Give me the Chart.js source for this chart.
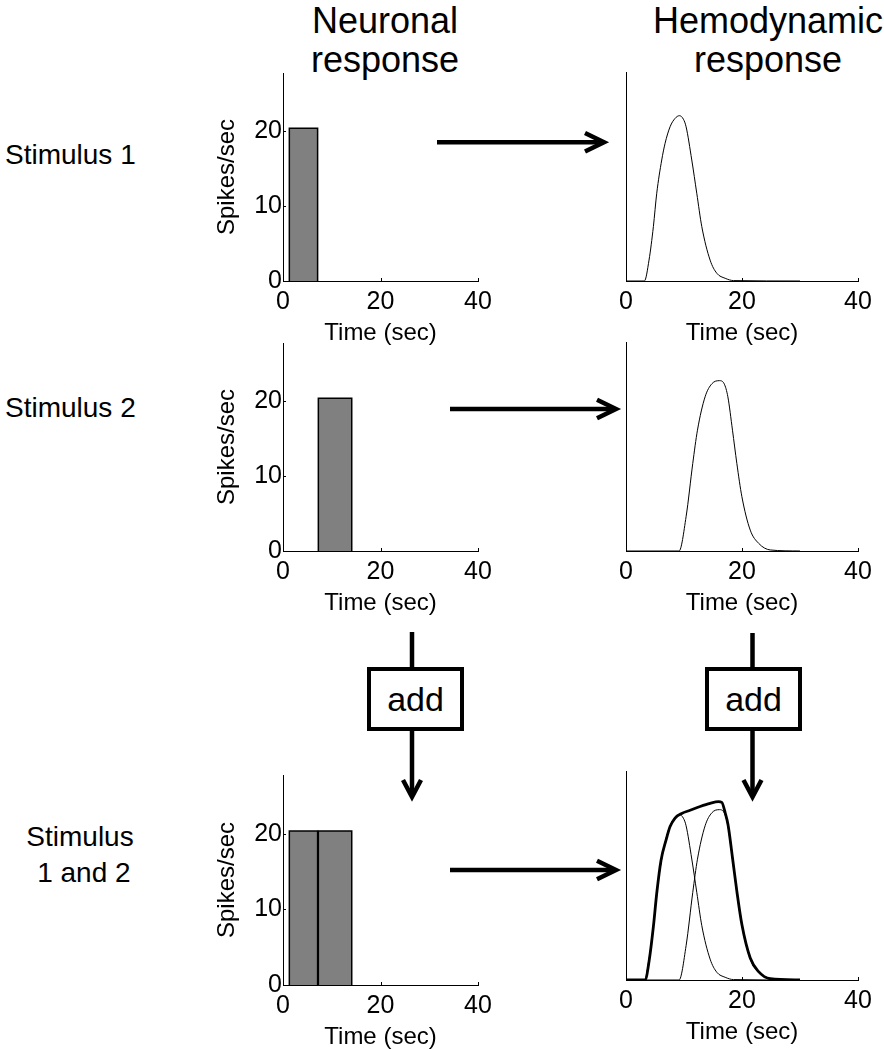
<!DOCTYPE html>
<html>
<head>
<meta charset="utf-8">
<script src="https://cdn.jsdelivr.net/npm/chart.js"></script>
<style>
  body { margin: 0; background: #fff; overflow: hidden; }
  #fig { position: relative; width: 884px; height: 1050px; font-family: 'Liberation Sans', Arial, sans-serif; color: #000; }
  #fig canvas { position: absolute; }
  .col-title { position: absolute; width: 260px; text-align: center; font-size: 36px; line-height: 39px; }
  .row-label { position: absolute; font-size: 28px; line-height: 28px; white-space: nowrap; }
  .add-box { position: absolute; box-sizing: border-box; width: 97px; height: 64px; border: 4px solid #000;
             display: flex; align-items: center; justify-content: center; font-size: 34px; background: #fff; }
  svg { position: absolute; left: 0; top: 0; }
</style>
</head>
<body>
<div id="fig">
  <div class="col-title" style="left:255px; top:1px">Neuronal<br>response</div>
  <div class="col-title" style="left:638px; top:1px">Hemodynamic<br>response</div>

  <div class="row-label" style="left:5px; top:141px">Stimulus 1</div>
  <div class="row-label" style="left:5px; top:394px">Stimulus 2</div>
  <div class="row-label" style="left:0; top:819px; width:160px; text-align:center; line-height:36px">Stimulus<br>&nbsp;1 and 2</div>

  <div class="add-box" style="left:367px; top:667px">add</div>
  <div class="add-box" style="left:705px; top:667px">add</div>

  <svg width="884" height="1050">
    <g stroke="#000" stroke-width="4.5" fill="none">
      <!-- horizontal arrows -->
      <line x1="437" y1="142.3" x2="602" y2="142.3"/>
      <polyline points="585,133 604,142.3 585,151.6"/>
      <line x1="450" y1="409" x2="614" y2="409"/>
      <polyline points="597,399.7 616,409 597,418.3"/>
      <line x1="450" y1="870" x2="614" y2="870"/>
      <polyline points="597,860.7 616,870 597,879.3"/>
      <!-- vertical "add" flows -->
      <line x1="412" y1="632" x2="412" y2="667"/>
      <line x1="412" y1="731" x2="412" y2="795"/>
      <polyline points="403,780 412,797 421,780"/>
      <line x1="752.5" y1="633" x2="752.5" y2="667"/>
      <line x1="752.5" y1="731" x2="752.5" y2="795"/>
      <polyline points="743.5,780 752.5,797 761.5,780"/>
    </g>
  </svg>
</div>

<script>
// axis ticks
const timeTicks = [0, 20, 40];
const spikeTicks = [0, 10, 20];
const spikeMax = 27.8;
const hrfMax = 1;

// neuronal response: firing rate and on/off times of each stimulus (sec)
const spikeRate = 20.4;
const stim1Edges = [1.3, 7.1];
const stim2Edges = [7.25, 14.1];

// hemodynamic responses (arbitrary units)
const hrf1Time  = [0, 3.17, 3.97, 4.72, 5.3, 6.16, 6.74, 7.6, 8.46, 9.21, 9.9, 10.36, 11.34, 12.2, 13.07, 14.5, 15.66, 17.1, 18.54, 30];
const hrf1Value = [0, 0, 0.10, 0.26, 0.42, 0.579, 0.659, 0.738, 0.778, 0.791, 0.774, 0.738, 0.579, 0.42, 0.26, 0.10, 0.037, 0.013, 0.002, 0];

const hrf2Time  = [0, 9.15, 10.36, 11.51, 12.32, 13.64, 14.8, 16.12, 16.93, 17.56, 18.36, 19.11, 19.98, 21.42, 22.86, 24.87, 30];
const hrf2Value = [0, 0, 0.164, 0.419, 0.578, 0.738, 0.80, 0.815, 0.80, 0.738, 0.578, 0.419, 0.26, 0.10, 0.037, 0.005, 0];

const sumTime  = [0, 3.28, 4.03, 4.72, 5.3, 6.05, 6.91, 7.6, 8.46, 9.61, 11.05, 12.78, 14.5, 15.95, 16.52, 17.1, 17.6, 18.36, 19.11, 19.98, 21.42, 22.86, 24.87, 30];
const sumValue = [0, 0, 0.10, 0.255, 0.415, 0.574, 0.67, 0.734, 0.775, 0.797, 0.812, 0.83, 0.845, 0.853, 0.85, 0.80, 0.742, 0.585, 0.425, 0.265, 0.105, 0.04, 0.006, 0];

const FONT = "'Liberation Sans', Arial, sans-serif";
Chart.defaults.font.family = FONT;
Chart.defaults.color = '#000';

function toPoints(xs, ys) {
  return xs.map((x, i) => ({ x: x, y: ys[i] }));
}

function barOutline(edges, rate) {
  return [
    { x: edges[0], y: 0 }, { x: edges[0], y: rate },
    { x: edges[1], y: rate }, { x: edges[1], y: 0 }
  ];
}

function barSet(edges) {
  return {
    data: barOutline(edges, spikeRate),
    borderColor: '#000', borderWidth: 1.5,
    backgroundColor: '#808080', fill: 'origin',
    pointRadius: 0, tension: 0
  };
}

function curveSet(xs, ys, width) {
  return {
    data: toPoints(xs, ys),
    borderColor: '#000', borderWidth: width,
    fill: false, pointRadius: 0,
    cubicInterpolationMode: 'monotone'
  };
}

// small inward tick marks, matlab style
const inwardTicks = {
  id: 'inwardTicks',
  afterDraw(chart) {
    const { ctx, chartArea, scales } = chart;
    ctx.save();
    ctx.strokeStyle = '#000';
    ctx.lineWidth = 1;
    ctx.beginPath();
    scales.x.ticks.forEach(t => {
      const px = Math.round(scales.x.getPixelForValue(t.value)) + 0.5;
      ctx.moveTo(px, chartArea.bottom);
      ctx.lineTo(px, chartArea.bottom - 3);
    });
    scales.y.ticks.forEach(t => {
      const py = Math.round(scales.y.getPixelForValue(t.value)) + 0.5;
      ctx.moveTo(chartArea.left, py);
      ctx.lineTo(chartArea.left + 3, py);
    });
    ctx.stroke();
    ctx.restore();
  }
};

function makePanel(box, kind, datasets) {
  const neuronal = kind === 'neuronal';
  const yAxisW = neuronal ? 83 : 26;
  const padRight = neuronal ? 16 : 26;
  const padTop = 13;
  const xAxisH = 67;

  const canvas = document.createElement('canvas');
  canvas.width = box.right - box.left + yAxisW + padRight;
  canvas.height = box.bottom - box.top + padTop + xAxisH;
  canvas.style.left = (box.left - yAxisW) + 'px';
  canvas.style.top = (box.top - padTop) + 'px';
  document.getElementById('fig').appendChild(canvas);

  new Chart(canvas, {
    type: 'line',
    data: { datasets: datasets },
    options: {
      responsive: false,
      animation: false,
      events: [],
      layout: { padding: { top: padTop, right: padRight, left: 0, bottom: 0 } },
      plugins: { legend: { display: false }, tooltip: { enabled: false } },
      scales: {
        x: {
          type: 'linear', min: 0, max: 40, z: 1,
          grid: { display: false, drawTicks: false },
          border: { display: true, color: '#000', width: 1 },
          ticks: { font: { size: 25 }, padding: 6, maxRotation: 0, autoSkip: false },
          title: { display: true, text: 'Time (sec)', font: { size: 24 }, padding: 0 },
          afterBuildTicks: s => { s.ticks = timeTicks.map(v => ({ value: v })); },
          afterFit: s => { s.height = xAxisH; s.paddingLeft = 0; s.paddingRight = 0; }
        },
        y: {
          type: 'linear', min: 0, max: neuronal ? spikeMax : hrfMax, z: 1,
          grid: { display: false, drawTicks: false },
          border: { display: true, color: '#000', width: 1 },
          ticks: { display: neuronal, font: { size: 25 }, padding: 1 },
          title: { display: neuronal, text: 'Spikes/sec', font: { size: 24 }, padding: { top: 13, bottom: 0 } },
          afterBuildTicks: s => { s.ticks = neuronal ? spikeTicks.map(v => ({ value: v })) : []; },
          afterFit: s => { s.width = yAxisW; s.paddingTop = 0; s.paddingBottom = 0; }
        }
      }
    },
    plugins: [inwardTicks]
  });
}

// row 1: stimulus 1
makePanel({ left: 283, top: 73, right: 478, bottom: 281 }, 'neuronal', [barSet(stim1Edges)]);
makePanel({ left: 626, top: 72, right: 858, bottom: 281 }, 'hemo', [curveSet(hrf1Time, hrf1Value, 1)]);

// row 2: stimulus 2
makePanel({ left: 283, top: 343, right: 478, bottom: 551 }, 'neuronal', [barSet(stim2Edges)]);
makePanel({ left: 626, top: 342, right: 858, bottom: 551 }, 'hemo', [curveSet(hrf2Time, hrf2Value, 1)]);

// row 3: both stimuli
makePanel({ left: 283, top: 775, right: 478, bottom: 985 }, 'neuronal', [barSet(stim1Edges), barSet(stim2Edges)]);
makePanel({ left: 626, top: 771, right: 858, bottom: 980 }, 'hemo', [
  curveSet(sumTime, sumValue, 2.8),
  curveSet(hrf1Time, hrf1Value, 1),
  curveSet(hrf2Time, hrf2Value, 1)
]);
</script>
</body>
</html>
